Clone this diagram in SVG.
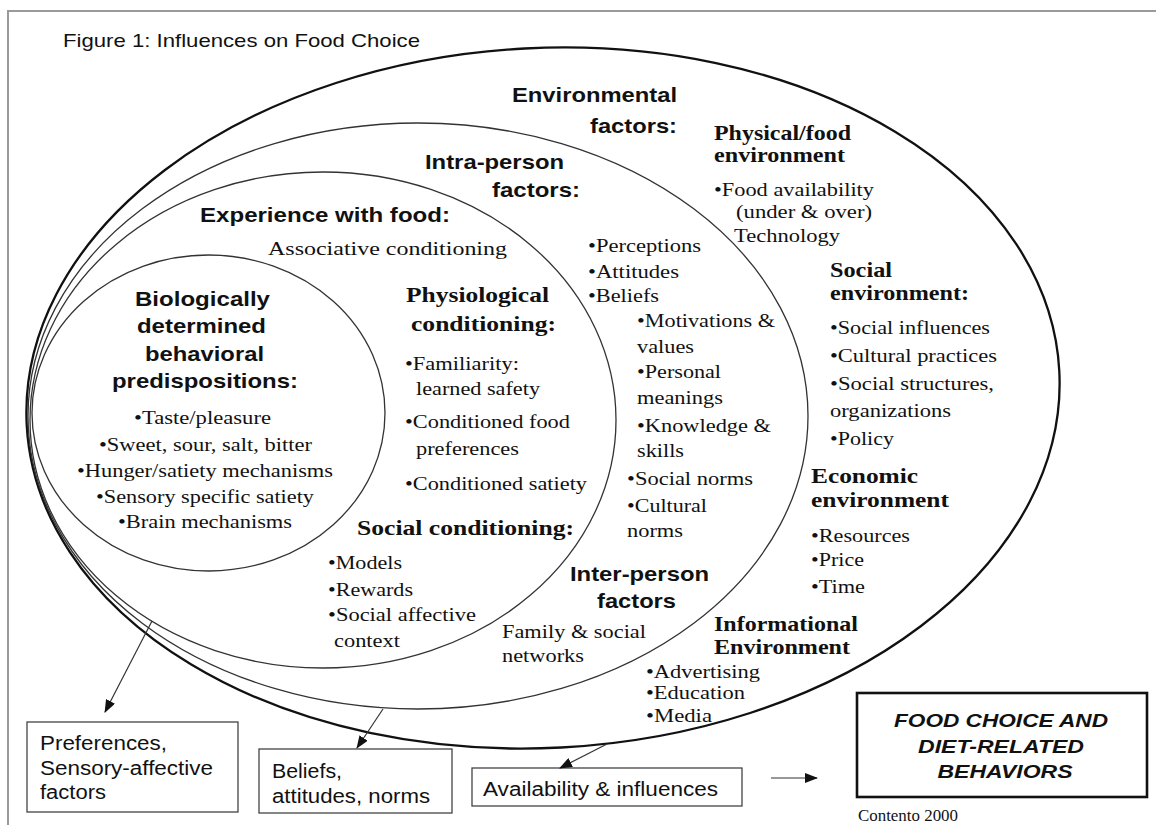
<svg xmlns="http://www.w3.org/2000/svg" width="1156" height="825" viewBox="0 0 1156 825">
<defs>
<style>
.frame{fill:none;stroke:#9a9a9a;stroke-width:2}
.ell{fill:none;stroke:#333;stroke-width:1.3}
.ell-out{fill:none;stroke:#111;stroke-width:2.3}
.box{fill:#fff;stroke:#444;stroke-width:1.3}
.box-main{fill:#fff;stroke:#111;stroke-width:2.6}
.conn{fill:none;stroke:#333;stroke-width:1.2}
.title{font-family:"Liberation Sans",Arial,sans-serif;font-size:19px;fill:#111}
.hs{font-family:"Liberation Sans",Arial,sans-serif;font-weight:bold;font-size:21px;fill:#111}
.ht{font-family:"Liberation Serif","Times New Roman",serif;font-weight:bold;font-size:21px;fill:#111}
.t{font-family:"Liberation Serif","Times New Roman",serif;font-size:19.5px;fill:#111}
.bx{font-family:"Liberation Sans",Arial,sans-serif;font-size:19.5px;fill:#111}
.main{font-family:"Liberation Sans",Arial,sans-serif;font-weight:bold;font-style:italic;font-size:19px;fill:#111}
.cite{font-family:"Liberation Serif","Times New Roman",serif;font-size:16px;fill:#111}
</style>
<marker id="ah" markerWidth="13" markerHeight="10" refX="12" refY="5" orient="auto" markerUnits="userSpaceOnUse">
<path d="M0,0 L13,5 L0,10 Z" fill="#111"/>
</marker>
</defs>
<rect width="1156" height="825" fill="#fff"/>
<path class="frame" d="M8,826 L8,11 L1157,11"/>
<text class="title" x="63" y="47" textLength="357" lengthAdjust="spacingAndGlyphs">Figure 1: Influences on Food Choice</text>

<g id="environmental">
<ellipse class="ell-out" cx="543" cy="398" rx="517" ry="350" transform="rotate(-3 543 398)"/>
<text class="hs" x="512" y="102" textLength="165" lengthAdjust="spacingAndGlyphs">Environmental</text>
<text class="hs" x="590" y="133" textLength="87" lengthAdjust="spacingAndGlyphs">factors:</text>
<text class="ht" x="714" y="140" textLength="137" lengthAdjust="spacingAndGlyphs">Physical/food</text>
<text class="ht" x="714" y="162" textLength="131" lengthAdjust="spacingAndGlyphs">environment</text>
<text class="t" x="714" y="196" textLength="160" lengthAdjust="spacingAndGlyphs">•Food availability</text>
<text class="t" x="736" y="218" textLength="136" lengthAdjust="spacingAndGlyphs">(under &amp; over)</text>
<text class="t" x="734" y="242" textLength="106" lengthAdjust="spacingAndGlyphs">Technology</text>
<text class="ht" x="830" y="277" textLength="62" lengthAdjust="spacingAndGlyphs">Social</text>
<text class="ht" x="830" y="300" textLength="139" lengthAdjust="spacingAndGlyphs">environment:</text>
<text class="t" x="830" y="334" textLength="160" lengthAdjust="spacingAndGlyphs">•Social influences</text>
<text class="t" x="830" y="362" textLength="167" lengthAdjust="spacingAndGlyphs">•Cultural practices</text>
<text class="t" x="830" y="390" textLength="164" lengthAdjust="spacingAndGlyphs">•Social structures,</text>
<text class="t" x="830" y="417" textLength="121" lengthAdjust="spacingAndGlyphs">organizations</text>
<text class="t" x="830" y="445" textLength="64" lengthAdjust="spacingAndGlyphs">•Policy</text>
<text class="ht" x="811" y="483" textLength="107" lengthAdjust="spacingAndGlyphs">Economic</text>
<text class="ht" x="811" y="507" textLength="138" lengthAdjust="spacingAndGlyphs">environment</text>
<text class="t" x="811" y="542" textLength="99" lengthAdjust="spacingAndGlyphs">•Resources</text>
<text class="t" x="811" y="566" textLength="53" lengthAdjust="spacingAndGlyphs">•Price</text>
<text class="t" x="811" y="593" textLength="54" lengthAdjust="spacingAndGlyphs">•Time</text>
<text class="ht" x="714" y="631" font-size="19.5" textLength="144" lengthAdjust="spacingAndGlyphs">Informational</text>
<text class="ht" x="714" y="654" font-size="19.5" textLength="136" lengthAdjust="spacingAndGlyphs">Environment</text>
<text class="t" x="646" y="678" textLength="114" lengthAdjust="spacingAndGlyphs">•Advertising</text>
<text class="t" x="646" y="699" textLength="99" lengthAdjust="spacingAndGlyphs">•Education</text>
<text class="t" x="646" y="722" textLength="66" lengthAdjust="spacingAndGlyphs">•Media</text>
</g>

<g id="intra-person">
<ellipse class="ell" cx="418" cy="416" rx="390" ry="293"/>
<text class="hs" x="425" y="169" textLength="139" lengthAdjust="spacingAndGlyphs">Intra-person</text>
<text class="hs" x="492" y="197" textLength="88" lengthAdjust="spacingAndGlyphs">factors:</text>
<text class="t" x="588" y="252" textLength="113" lengthAdjust="spacingAndGlyphs">•Perceptions</text>
<text class="t" x="588" y="278" textLength="91" lengthAdjust="spacingAndGlyphs">•Attitudes</text>
<text class="t" x="588" y="302" textLength="71" lengthAdjust="spacingAndGlyphs">•Beliefs</text>
<text class="t" x="637" y="327" textLength="138" lengthAdjust="spacingAndGlyphs">•Motivations &amp;</text>
<text class="t" x="637" y="353" textLength="57" lengthAdjust="spacingAndGlyphs">values</text>
<text class="t" x="637" y="378" textLength="84" lengthAdjust="spacingAndGlyphs">•Personal</text>
<text class="t" x="637" y="404" textLength="86" lengthAdjust="spacingAndGlyphs">meanings</text>
<text class="t" x="637" y="432" textLength="134" lengthAdjust="spacingAndGlyphs">•Knowledge &amp;</text>
<text class="t" x="637" y="457" textLength="47" lengthAdjust="spacingAndGlyphs">skills</text>
<text class="t" x="627" y="485" textLength="126" lengthAdjust="spacingAndGlyphs">•Social norms</text>
<text class="t" x="627" y="512" textLength="80" lengthAdjust="spacingAndGlyphs">•Cultural</text>
<text class="t" x="627" y="537" textLength="56" lengthAdjust="spacingAndGlyphs">norms</text>
<text class="hs" x="570" y="581" textLength="139" lengthAdjust="spacingAndGlyphs">Inter-person</text>
<text class="hs" x="597" y="608" textLength="79" lengthAdjust="spacingAndGlyphs">factors</text>
<text class="t" x="502" y="638" textLength="144" lengthAdjust="spacingAndGlyphs">Family &amp; social</text>
<text class="t" x="502" y="662" textLength="82" lengthAdjust="spacingAndGlyphs">networks</text>
</g>

<g id="experience">
<ellipse class="ell" cx="323" cy="420" rx="293" ry="248"/>
<text class="hs" x="200" y="222" textLength="250" lengthAdjust="spacingAndGlyphs">Experience with food:</text>
<text class="t" x="268" y="255" textLength="239" lengthAdjust="spacingAndGlyphs">Associative conditioning</text>
<text class="ht" x="406" y="302" textLength="143" lengthAdjust="spacingAndGlyphs">Physiological</text>
<text class="ht" x="411" y="331" textLength="145" lengthAdjust="spacingAndGlyphs">conditioning:</text>
<text class="t" x="405" y="370" textLength="114" lengthAdjust="spacingAndGlyphs">•Familiarity:</text>
<text class="t" x="416" y="395" textLength="124" lengthAdjust="spacingAndGlyphs">learned safety</text>
<text class="t" x="405" y="428" textLength="165" lengthAdjust="spacingAndGlyphs">•Conditioned food</text>
<text class="t" x="416" y="455" textLength="103" lengthAdjust="spacingAndGlyphs">preferences</text>
<text class="t" x="405" y="490" textLength="182" lengthAdjust="spacingAndGlyphs">•Conditioned satiety</text>
<text class="ht" x="357" y="535" textLength="217" lengthAdjust="spacingAndGlyphs">Social conditioning:</text>
<text class="t" x="328" y="569" textLength="74" lengthAdjust="spacingAndGlyphs">•Models</text>
<text class="t" x="328" y="596" textLength="85" lengthAdjust="spacingAndGlyphs">•Rewards</text>
<text class="t" x="328" y="621" textLength="148" lengthAdjust="spacingAndGlyphs">•Social affective</text>
<text class="t" x="334" y="647" textLength="66" lengthAdjust="spacingAndGlyphs">context</text>
</g>

<g id="biological">
<ellipse class="ell" cx="208.5" cy="413" rx="176.5" ry="158"/>
<text class="hs" x="135" y="306" textLength="135" lengthAdjust="spacingAndGlyphs">Biologically</text>
<text class="hs" x="137" y="333" textLength="129" lengthAdjust="spacingAndGlyphs">determined</text>
<text class="hs" x="145" y="361" textLength="119" lengthAdjust="spacingAndGlyphs">behavioral</text>
<text class="hs" x="112" y="388" textLength="186" lengthAdjust="spacingAndGlyphs">predispositions:</text>
<text class="t" x="134" y="424" textLength="137" lengthAdjust="spacingAndGlyphs">•Taste/pleasure</text>
<text class="t" x="99" y="451" textLength="213" lengthAdjust="spacingAndGlyphs">•Sweet, sour, salt, bitter</text>
<text class="t" x="77" y="477" textLength="256" lengthAdjust="spacingAndGlyphs">•Hunger/satiety mechanisms</text>
<text class="t" x="96" y="503" textLength="218" lengthAdjust="spacingAndGlyphs">•Sensory specific satiety</text>
<text class="t" x="118" y="528" textLength="174" lengthAdjust="spacingAndGlyphs">•Brain mechanisms</text>
</g>

<g id="box-preferences">
<rect class="box" x="27" y="722" width="211" height="90"/>
<text class="bx" x="40" y="750" textLength="127" lengthAdjust="spacingAndGlyphs">Preferences,</text>
<text class="bx" x="40" y="775" textLength="173" lengthAdjust="spacingAndGlyphs">Sensory-affective</text>
<text class="bx" x="40" y="799" textLength="66" lengthAdjust="spacingAndGlyphs">factors</text>
</g>

<g id="box-beliefs">
<rect class="box" x="259" y="749" width="193" height="64"/>
<text class="bx" x="272" y="778" textLength="70" lengthAdjust="spacingAndGlyphs">Beliefs,</text>
<text class="bx" x="272" y="803" textLength="158" lengthAdjust="spacingAndGlyphs">attitudes, norms</text>
</g>

<g id="box-availability">
<rect class="box" x="472" y="768" width="270" height="38"/>
<text class="bx" x="483" y="796" textLength="235" lengthAdjust="spacingAndGlyphs">Availability &amp; influences</text>
</g>

<g id="box-food-choice">
<rect class="box-main" x="857" y="693" width="290" height="104"/>
<text class="main" x="1001" y="727" text-anchor="middle" textLength="214" lengthAdjust="spacingAndGlyphs">FOOD CHOICE AND</text>
<text class="main" x="1001" y="753" text-anchor="middle" textLength="166" lengthAdjust="spacingAndGlyphs">DIET-RELATED</text>
<text class="main" x="1005" y="778" text-anchor="middle" textLength="135" lengthAdjust="spacingAndGlyphs">BEHAVIORS</text>
</g>

<text class="cite" x="858" y="821" textLength="100" lengthAdjust="spacingAndGlyphs">Contento 2000</text>

<g id="connectors">
<line class="conn" x1="152" y1="621" x2="105" y2="712" marker-end="url(#ah)"/>
<line class="conn" x1="383" y1="709" x2="357" y2="748" marker-end="url(#ah)"/>
<line class="conn" x1="607" y1="744" x2="560" y2="768" marker-end="url(#ah)"/>
<line class="conn" x1="771" y1="778" x2="817" y2="778" marker-end="url(#ah)"/>
</g>
</svg>
